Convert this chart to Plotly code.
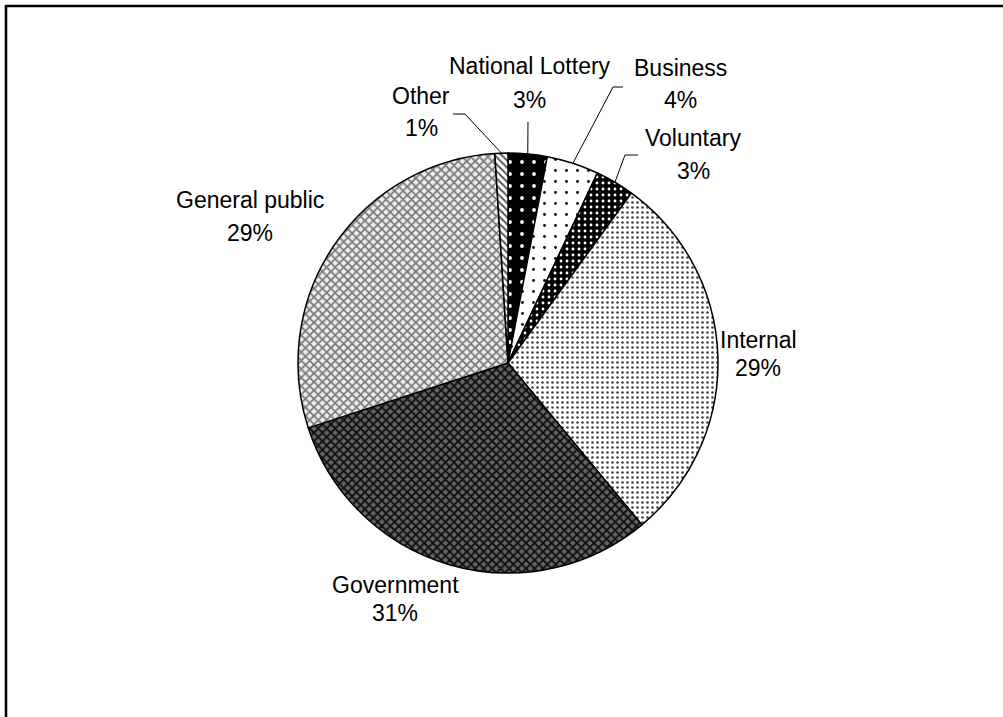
import math
import plotly.graph_objects as go

labels = ["National Lottery", "Business", "Voluntary", "Internal", "Government", "General public", "Other"]
values = [3, 4, 3, 29, 31, 29, 1]
pct_text = ["3%", "4%", "3%", "29%", "31%", "29%", "1%"]

W, H = 1003, 717
CX, CY, R = 508, 363, 210

def px(x, y):
    return x / W, 1 - y / H

patterns = [
    dict(shape=".", bgcolor="black", fgcolor="white", size=12, solidity=0.08),
    dict(shape=".", bgcolor="white", fgcolor="black", size=11, solidity=0.05),
    dict(shape=".", bgcolor="black", fgcolor="white", size=6, solidity=0.18),
    dict(shape=".", bgcolor="white", fgcolor="#444", size=5, solidity=0.22),
    dict(shape="x", bgcolor="#666", fgcolor="#111", size=6, solidity=0.55),
    dict(shape="x", bgcolor="#eee", fgcolor="#777", size=6, solidity=0.5),
    dict(shape="\\", bgcolor="white", fgcolor="#555", size=5, solidity=0.4),
]

fig = go.Figure()
fig.add_trace(go.Pie(
    labels=labels, values=values, sort=False, direction="clockwise", rotation=0,
    textinfo="none", hoverinfo="label+percent", showlegend=False,
    marker=dict(colors=[p["bgcolor"] for p in patterns],
                line=dict(color="black", width=1.5),
                pattern=dict(shape=[p["shape"] for p in patterns],
                             bgcolor=[p["bgcolor"] for p in patterns],
                             fgcolor=[p["fgcolor"] for p in patterns],
                             size=[p["size"] for p in patterns],
                             solidity=[p["solidity"] for p in patterns],
                             fillmode="replace")),
    domain=dict(x=[(CX - R) / W, (CX + R) / W], y=[1 - (CY + R) / H, 1 - (CY - R) / H]),
))

# label positions (pixel centres of name line and percent line)
label_pos = [
    (530, 66, 529, 100),
    (680, 68, 680, 100),
    (693, 138, 693, 171),
    (758, 340, 758, 368),
    (395, 585, 395, 613),
    (250, 200, 250, 233),
    (421, 96, 421, 128),
]
font = dict(family="Liberation Sans, Arial, sans-serif", size=23, color="black")
annotations = []
for lab, pct, (x1, y1, x2, y2) in zip(labels, pct_text, label_pos):
    for t, x, y in ((lab, x1, y1), (pct, x2, y2)):
        ax, ay = px(x, y)
        annotations.append(dict(text=t, x=ax, y=ay, xref="paper", yref="paper",
                                showarrow=False, font=font, xanchor="center", yanchor="middle"))

# leader lines for small slices: start points (pixels) and elbow, end at slice mid-angle on rim
total = sum(values)
cum = 0
mids = []
for v in values:
    mids.append((cum + v / 2) / total * 2 * math.pi)
    cum += v
leaders = {
    0: [(528, 122)],
    1: [(623, 87), (613, 87)],
    2: [(638, 155), (625, 155)],
    6: [(453, 114), (465, 114)],
}
shapes = []
for i, pts in leaders.items():
    a = mids[i]
    ex, ey = CX + R * math.sin(a), CY - R * math.cos(a)
    allpts = pts + [(ex, ey)]
    path = "M " + " L ".join(f"{px(x, y)[0]:.5f},{px(x, y)[1]:.5f}" for x, y in allpts)
    shapes.append(dict(type="path", path=path, xref="paper", yref="paper",
                       line=dict(color="black", width=1)))

# outer frame
x0, y1 = px(6, 6)
shapes.append(dict(type="rect", xref="paper", yref="paper", x0=x0, y0=-0.05, x1=1.05, y1=y1,
                   line=dict(color="black", width=2.5), fillcolor="rgba(0,0,0,0)"))

fig.update_layout(width=W, height=H, margin=dict(l=0, r=0, t=0, b=0),
                  paper_bgcolor="white", plot_bgcolor="white",
                  annotations=annotations, shapes=shapes)
fig.write_html("out.html")
